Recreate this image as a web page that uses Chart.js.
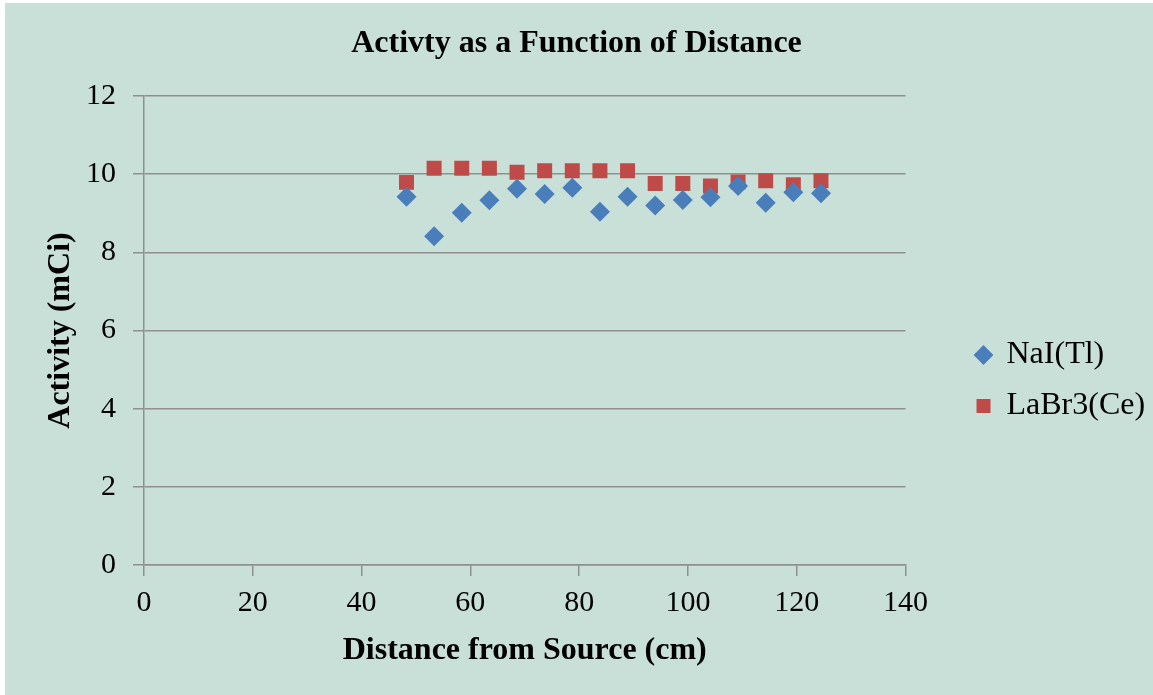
<!DOCTYPE html>
<html>
<head>
<meta charset="utf-8">
<title>Activty as a Function of Distance</title>
<script src="https://cdn.jsdelivr.net/npm/chart.js@4/dist/chart.umd.min.js"></script>
<style>
  html, body { margin: 0; padding: 0; background: #ffffff; }
  /* the source picture has a thin white strip on its top and left edge */
  .chart-box { position: absolute; left: 5px; top: 3px; width: 1148px; height: 692px; background: #c9e0d9; }
</style>
</head>
<body>
<div class="chart-box"><canvas id="activityChart" width="1148" height="692"></canvas></div>
<script>
/* ==========================================================================
   ACTIVITY vs DISTANCE — scatter of two detectors
   ========================================================================== */

// distance from source (cm), one reading every 2 inches
const distances = [48.26, 53.34, 58.42, 63.5, 68.58, 73.66, 78.74, 83.82, 88.9, 93.98, 99.06, 104.14, 109.22, 114.3, 119.38, 124.46];
const naiActivity = [9.42, 8.41, 9.01, 9.33, 9.63, 9.49, 9.65, 9.04, 9.42, 9.2, 9.34, 9.41, 9.7, 9.27, 9.54, 9.51];
const labrActivity = [9.79, 10.15, 10.15, 10.15, 10.05, 10.09, 10.09, 10.09, 10.09, 9.76, 9.76, 9.7, 9.8, 9.83, 9.73, 9.83];
const seriesNames = ["NaI(Tl)", "LaBr3(Ce)"];
const xRange = [0, 140, 20];
const yRange = [0, 12, 2];

(function () {
  const ctx = document.getElementById("activityChart");
  if (!ctx) return;

  const gridGrey = "#8f8f8f";
  Chart.defaults.font.family = "'Liberation Serif', 'Times New Roman', serif";
  Chart.defaults.color = "#000000";

  const toPoints = (ys) => distances.map((d, i) => ({ x: d, y: ys[i] }));

  new Chart(ctx, {
    type: "scatter",
    data: {
      datasets: [
        {
          label: seriesNames[0],
          data: toPoints(naiActivity),
          pointStyle: "rectRot",
          pointRadius: 10,
          pointHoverRadius: 10,
          backgroundColor: "#4a7ebb",
          borderColor: "#4a7ebb",
          borderWidth: 0,
        },
        {
          label: seriesNames[1],
          data: toPoints(labrActivity),
          pointStyle: "rect",
          pointRadius: 10.6,
          pointHoverRadius: 10.6,
          backgroundColor: "#be4b48",
          borderColor: "#be4b48",
          borderWidth: 0,
        },
      ],
    },
    options: {
      responsive: false,
      animation: false,
      devicePixelRatio: 1,
      events: [],
      layout: { padding: { left: 0, top: 0, bottom: 0, right: 5 } },
      plugins: {
        tooltip: { enabled: false },
        title: {
          display: true,
          text: "Activty as a Function of Distance",
          font: { size: 32, weight: "bold" },
          padding: { top: 21.5, bottom: 33.1 },
        },
        legend: {
          position: "right",
          // empty title only pushes the two entries down to where they sit in the source
          title: { display: true, text: "", font: { size: 10 }, padding: { top: 0, bottom: 51 } },
          labels: {
            usePointStyle: true,
            boxWidth: 14,
            boxHeight: 14,
            padding: 19,
            font: { size: 32 },
          },
        },
      },
      scales: {
        x: {
          type: "linear",
          min: xRange[0],
          max: xRange[1],
          ticks: { stepSize: xRange[2], font: { size: 30 }, padding: 9 },
          grid: { drawOnChartArea: false, drawTicks: true, tickLength: 11, color: gridGrey, lineWidth: 1.5 },
          border: { color: gridGrey, width: 1.5 },
          title: {
            display: true,
            text: "Distance from Source (cm)",
            font: { size: 32, weight: "bold" },
            padding: { top: 0, bottom: 24.8 },
          },
          afterFit: (s) => { s.height = 130; },
        },
        y: {
          type: "linear",
          min: yRange[0],
          max: yRange[1],
          ticks: { stepSize: yRange[2], font: { size: 30 }, padding: 17 },
          grid: { color: gridGrey, lineWidth: 1.5, tickLength: 11 },
          border: { color: gridGrey, width: 1.5 },
          title: {
            display: true,
            text: "Activity (mCi)",
            font: { size: 32, weight: "bold" },
            padding: { top: 36.8, bottom: 0 },
          },
          afterFit: (s) => { s.width = 139; },
        },
        // blank spacer between the plot and the legend
        gap: {
          type: "linear",
          position: "right",
          display: true,
          ticks: { display: false },
          grid: { display: false },
          border: { display: false },
          afterFit: (s) => { s.width = 52; },
        },
      },
    },
  });
})();
</script>
</body>
</html>
